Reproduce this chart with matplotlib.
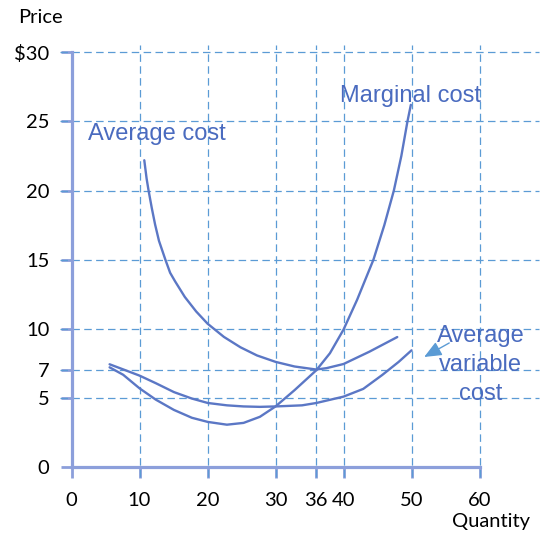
import matplotlib
matplotlib.use("Agg")
import matplotlib.pyplot as plt

# curve values (quantity, price)
mc_q = [5.6, 7.6, 10, 12.4, 15.05, 17.7, 20.04, 22.85, 25.3, 27.7, 30, 32.8, 36, 38, 40,
        42, 44.4, 46, 47.4, 48.5, 49.4, 49.9]
mc_p = [7.21, 6.67, 5.69, 4.87, 4.13, 3.56, 3.26, 3.06, 3.19, 3.63, 4.38, 5.56, 7.0, 8.23, 9.94,
        12.1, 15, 17.5, 20, 22.5, 25, 26.2]

ac_q = [10.7, 11.04, 11.33, 11.8, 12.29, 12.86, 13.8, 14.5, 15.23, 16.66, 18.33, 20, 22.41,
        24.84, 27.27, 30.03, 32.8, 36, 37.5, 40, 43.8, 47.9]
ac_p = [22.19, 20.87, 20, 18.74, 17.54, 16.36, 15, 14.05, 13.43, 12.3, 11.25, 10.37, 9.41,
        8.66, 8.07, 7.6, 7.27, 7.05, 7.15, 7.45, 8.34, 9.4]

avc_q = [5.6, 7.6, 10, 12.4, 15.05, 17.7, 20.04, 22.85, 25.3, 27.7, 30, 33.9, 36, 40, 42.9,
         45.7, 48.1, 50]
avc_p = [7.43, 7.06, 6.61, 6.06, 5.42, 4.95, 4.63, 4.46, 4.38, 4.35, 4.38, 4.46, 4.63, 5.09, 5.65,
         6.66, 7.6, 8.44]

xticks = [0, 10, 20, 30, 36, 40, 50, 60]
yticks = [0, 5, 7, 10, 15, 20, 25, 30]
ytick_labels = ["0", "5", "7", "10", "15", "20", "25", "$30"]
xgrid = [10, 20, 30, 36, 40, 50, 60]
ygrid = [5, 7, 10, 15, 20, 25, 30]

curve_col = "#5b77c5"
grid_col = "#5b9bd5"
axis_col = "#8c9fdb"
label_col = "#4a6bbf"

fig = plt.figure(figsize=(5.54, 5.39), dpi=100)
ax = fig.add_axes([0.1291, 0.1336, 0.7365, 0.7694])
ax.set_xlim(0, 60)
ax.set_ylim(0, 30)

# dashed grid, running past the axes like in the drawing
ax.hlines(ygrid, -1.7, 68.7, colors=grid_col, lw=0.9, linestyles=(0, (6, 3.5)), clip_on=False)
ax.vlines(xgrid, -0.7, 30.5, colors=grid_col, lw=0.9, linestyles=(0, (6, 3.5)), clip_on=False)

for q, p in [(mc_q, mc_p), (ac_q, ac_p), (avc_q, avc_p)]:
    ax.plot(q, p, color=curve_col, lw=1.7, solid_capstyle="round", solid_joinstyle="round",
            clip_on=False)

for s in ["top", "right"]:
    ax.spines[s].set_visible(False)
for s in ["left", "bottom"]:
    ax.spines[s].set_color(axis_col)
    ax.spines[s].set_linewidth(2.3)

ax.set_xticks(xticks)
ax.set_yticks(yticks)
ax.set_yticklabels(ytick_labels)
ax.tick_params(axis="both", direction="out", length=8, width=2, color=axis_col,
               labelsize=14.5, labelcolor="black")
ax.tick_params(axis="y", pad=8)
ax.tick_params(axis="x", pad=10)
for lab in ax.get_xticklabels() + ax.get_yticklabels():
    lab.set_family("Lato")

ax.text(2.43, 23.66, "Average cost", color=label_col, fontsize=17,
        family="Liberation Sans", va="baseline", ha="left")
ax.text(39.5, 26.43, "Marginal cost", color=label_col, fontsize=17,
        family="Liberation Sans", va="baseline", ha="left")
ax.text(60.2, 4.85, "Average\nvariable\ncost", color=label_col, fontsize=17,
        family="Liberation Sans", va="baseline", ha="center", multialignment="center",
        linespacing=1.4, clip_on=False)
ax.annotate("", xy=(51.5, 7.86), xytext=(55.9, 9.07),
            arrowprops=dict(arrowstyle="-|>,head_length=0.7,head_width=0.3",
                            color=grid_col, lw=1, mutation_scale=15),
            annotation_clip=False)

fig.text(18 / 554, 1 - 17.5 / 539, "Price", fontsize=14.5, family="Lato", va="center", ha="left")
fig.text(452 / 554, 1 - 522 / 539, "Quantity", fontsize=14.5, family="Lato", va="center", ha="left")

fig.savefig("out.png", dpi=100)
